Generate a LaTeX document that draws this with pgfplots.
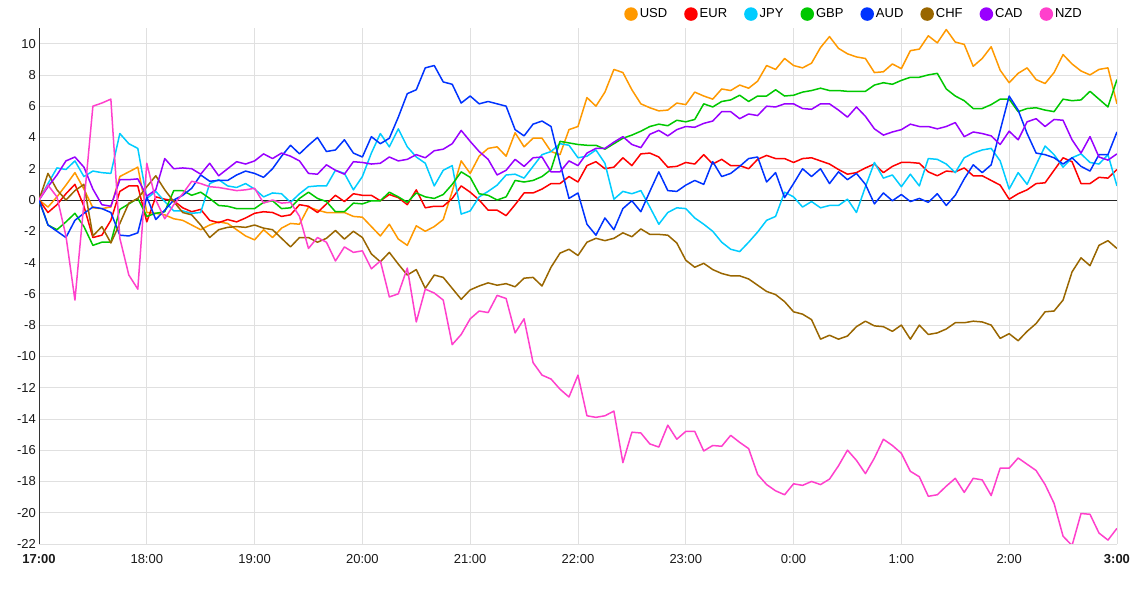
\documentclass[border=0pt]{standalone}
\usepackage{fontspec}
\setmainfont{Liberation Sans}
\usepackage{pgfplots}
\pgfplotsset{compat=1.18}
\definecolor{cUSD}{HTML}{FF9900}
\definecolor{cEUR}{HTML}{FF0000}
\definecolor{cJPY}{HTML}{00CCFF}
\definecolor{cGBP}{HTML}{00C800}
\definecolor{cAUD}{HTML}{0033FF}
\definecolor{cCHF}{HTML}{996600}
\definecolor{cCAD}{HTML}{9900FF}
\definecolor{cNZD}{HTML}{FF40CC}
\pgfplotsset{ser/.style={table/row sep=\\, table/header=false, table/x expr=\coordindex*5, table/y index=0}}
\begin{document}
\begin{tikzpicture}[x=1pt,y=1pt]
\path[use as bounding box] (0,0) rectangle (1135,589);
\begin{axis}[
 at={(39pt,45pt)}, anchor=south west,
 scale only axis, width=1078pt, height=516pt,
 xmin=0, xmax=600, ymin=-22, ymax=11,
 xtick={0,60,...,600},
 xticklabels={\textbf{17:00},18:00,19:00,20:00,21:00,22:00,23:00,0:00,1:00,2:00,\textbf{3:00}},
 ytick={-22,-20,...,10},
 grid=major, grid style={draw=black!12, line width=0.8pt},
 axis x line*=bottom, axis y line*=left,
 x axis line style={draw=none},
 y axis line style={draw=black!80, line width=0.9pt, -},
 tick style={draw=none},
 ticklabel style={font=\fontsize{13}{15}\selectfont, text=black!90},
 xticklabel style={inner sep=0pt, yshift=-10pt},
 yticklabel style={inner sep=0pt, xshift=-3pt},
 /pgf/number format/assume math mode=true,
 extra y ticks={0}, extra y tick labels={},
 extra y tick style={grid style={draw=black!85, line width=0.9pt}},
 legend columns=8,
 legend style={draw=none, fill=none, at={(0.9685,1.027)}, anchor=east,
   font=\fontsize{13}{15}\selectfont, inner sep=0pt, nodes={inner sep=1pt},
   /tikz/every odd column/.append style={column sep=1pt},
   /tikz/every even column/.append style={column sep=16pt}},
 legend image code/.code={\fill[#1] (6pt,0pt) circle (6pt);},
 every axis plot/.append style={line width=1.5pt, line join=round, mark=none},
]
% USD
\addplot[cUSD, ser] table {0\\-0.45\\0.2\\0.95\\1.75\\0.7\\-0.5\\-0.55\\-0.45\\1.5\\1.8\\2.1\\-0.8\\-0.85\\-0.95\\-1.2\\-1.3\\-1.6\\-1.9\\-1.6\\-1.4\\-1.5\\-1.9\\-2.3\\-2.55\\-1.9\\-2.4\\-1.8\\-1.5\\-1.55\\-0.45\\-0.65\\-0.8\\-0.8\\-0.8\\-1.05\\-1.1\\-1.7\\-2.3\\-1.55\\-2.5\\-2.9\\-1.65\\-2.0\\-1.7\\-1.25\\0.55\\2.5\\1.7\\2.8\\3.3\\3.4\\2.8\\4.3\\3.4\\3.95\\3.95\\3.1\\2.9\\4.5\\4.7\\6.55\\6.0\\6.9\\8.35\\8.15\\7.05\\6.15\\5.9\\5.7\\5.75\\6.2\\6.1\\6.9\\6.65\\6.45\\7.1\\7.0\\7.35\\7.15\\7.6\\8.6\\8.35\\9.05\\8.6\\8.45\\8.75\\9.75\\10.45\\9.7\\9.35\\9.15\\9.05\\8.15\\8.2\\8.7\\8.4\\9.55\\9.65\\10.5\\10.05\\10.9\\10.1\\9.95\\8.55\\9.05\\9.8\\8.3\\7.5\\8.1\\8.45\\7.7\\7.45\\8.15\\9.3\\8.7\\8.25\\8.0\\8.35\\8.45\\6.15\\};
\addlegendentry{USD}
% EUR
\addplot[cEUR, ser] table {0\\-0.8\\-0.3\\0.4\\1.0\\-0.4\\-2.4\\-2.25\\-1.3\\0.55\\0.9\\0.9\\-1.4\\0.2\\0.05\\-0.05\\-0.5\\-0.75\\-0.6\\-1.3\\-1.45\\-1.25\\-1.4\\-1.15\\-0.85\\-0.75\\-0.8\\-1.05\\-0.95\\-0.3\\-0.4\\-0.8\\-0.25\\0.3\\-0.1\\0.4\\0.3\\0.3\\-0.05\\0.35\\0.15\\-0.3\\0.65\\-0.5\\-0.4\\-0.4\\0.1\\0.9\\0.5\\0\\-0.65\\-0.65\\-1.0\\-0.3\\0.45\\0.45\\0.7\\1.05\\1.05\\1.5\\1.15\\2.2\\2.45\\2.0\\2.1\\2.7\\2.2\\2.95\\3.0\\2.75\\2.1\\2.15\\2.4\\2.3\\2.9\\2.3\\2.6\\2.2\\2.2\\2.0\\2.6\\2.85\\2.65\\2.65\\2.4\\2.65\\2.7\\2.5\\2.3\\1.95\\1.65\\1.75\\2.05\\2.3\\1.75\\2.15\\2.4\\2.4\\2.35\\1.8\\1.55\\1.85\\1.8\\2.05\\1.55\\1.55\\1.25\\0.95\\0.05\\0.4\\0.65\\1.05\\1.1\\1.9\\2.7\\2.45\\1.05\\1.05\\1.45\\1.4\\1.95\\};
\addlegendentry{EUR}
% JPY
\addplot[cJPY, ser] table {0\\1.05\\2.05\\1.95\\2.5\\1.5\\1.85\\1.75\\1.7\\4.25\\3.6\\3.3\\0.1\\0.55\\-0.1\\-0.7\\-0.7\\-0.85\\-0.8\\1.05\\1.3\\0.9\\0.8\\1.05\\0.7\\0.2\\0.45\\0.4\\-0.15\\0.4\\0.85\\0.9\\0.9\\1.9\\1.7\\0.65\\1.5\\3.0\\4.25\\3.4\\4.55\\3.4\\2.75\\2.35\\0.9\\1.9\\2.2\\-0.9\\-0.7\\0.2\\0.55\\0.95\\1.6\\1.65\\1.4\\2.15\\2.9\\3.1\\3.6\\3.5\\2.7\\2.8\\3.2\\2.35\\0.05\\0.55\\0.4\\0.6\\-0.45\\-1.55\\-0.8\\-0.5\\-0.55\\-1.15\\-1.55\\-2.0\\-2.7\\-3.15\\-3.3\\-2.7\\-2.05\\-1.3\\-1.05\\0.5\\0.2\\-0.45\\-0.1\\-0.5\\-0.35\\-0.35\\0.05\\-0.8\\0.85\\2.4\\1.4\\1.6\\0.85\\1.65\\0.9\\2.65\\2.6\\2.3\\1.75\\2.7\\3.0\\3.2\\3.3\\2.5\\0.7\\1.75\\1.0\\2.25\\3.45\\2.9\\2.1\\2.7\\2.95\\2.4\\2.3\\2.9\\0.9\\};
\addlegendentry{JPY}
% GBP
\addplot[cGBP, ser] table {0\\-1.6\\-1.9\\-1.4\\-0.85\\-1.7\\-2.9\\-2.7\\-2.7\\-0.6\\-0.25\\0.1\\-1.05\\-0.85\\-0.75\\0.6\\0.6\\0.3\\0.5\\0.1\\-0.35\\-0.4\\-0.55\\-0.55\\-0.55\\-0.15\\-0.05\\-0.55\\-0.5\\0.1\\0.5\\0.1\\-0.1\\-0.75\\-0.75\\-0.2\\-0.25\\-0.05\\-0.05\\0.5\\0.2\\-0.15\\0.45\\0.2\\0.1\\0.35\\1.0\\1.8\\1.45\\0.4\\0.3\\0\\0.2\\1.25\\1.15\\1.25\\1.5\\1.95\\3.75\\3.65\\3.55\\3.5\\3.5\\3.25\\3.6\\3.95\\4.15\\4.4\\4.7\\4.85\\4.75\\5.1\\5.0\\5.15\\6.15\\5.95\\6.3\\6.4\\6.7\\6.3\\6.65\\6.65\\7.05\\6.65\\6.7\\6.9\\7.0\\7.15\\7.0\\7.0\\6.95\\6.95\\6.95\\7.35\\7.5\\7.4\\7.65\\7.85\\7.85\\8.0\\8.1\\7.1\\6.65\\6.35\\5.85\\5.85\\6.1\\6.45\\6.45\\5.65\\5.85\\5.9\\5.75\\5.65\\6.45\\6.35\\6.4\\6.95\\6.45\\5.95\\7.7\\};
\addlegendentry{GBP}
% AUD
\addplot[cAUD, ser] table {0\\-1.6\\-2.0\\-2.4\\-1.3\\-0.85\\-0.45\\-0.55\\-0.8\\-2.25\\-2.3\\-2.1\\0.2\\-1.25\\-0.65\\0\\0.3\\0.75\\1.6\\1.2\\1.25\\1.25\\1.6\\1.85\\1.7\\1.45\\2.0\\2.8\\3.5\\2.95\\3.5\\4.0\\3.1\\3.2\\3.85\\3.0\\2.75\\4.05\\3.6\\3.95\\5.3\\6.8\\7.05\\8.45\\8.6\\7.55\\7.4\\6.2\\6.65\\6.15\\6.3\\6.15\\6.0\\4.5\\4.1\\4.85\\5.05\\4.7\\2.35\\0.1\\0.45\\-1.55\\-2.25\\-1.15\\-1.9\\-0.55\\-0.05\\-0.75\\0.55\\1.8\\0.6\\0.55\\0.95\\1.25\\1.0\\2.45\\1.5\\1.7\\2.15\\2.65\\2.75\\1.15\\1.75\\0.15\\1.05\\2.0\\1.5\\2.0\\1.05\\1.8\\1.3\\1.7\\1.0\\-0.25\\0.45\\-0.05\\0.35\\-0.1\\0.1\\-0.15\\0.4\\-0.35\\0.3\\1.35\\2.25\\1.75\\2.25\\4.45\\6.65\\5.75\\4.25\\3.0\\2.9\\2.7\\2.3\\2.7\\2.15\\1.85\\2.9\\2.9\\4.35\\};
\addlegendentry{AUD}
% CHF
\addplot[cCHF, ser] table {0\\1.7\\0.65\\0\\0.6\\1.0\\-2.3\\-1.7\\-2.75\\-1.5\\-0.2\\0.1\\0.85\\1.55\\0.65\\-0.1\\-0.8\\-0.95\\-1.6\\-2.4\\-1.9\\-1.75\\-1.7\\-1.75\\-1.6\\-1.8\\-1.9\\-2.45\\-3.0\\-2.4\\-2.4\\-2.7\\-2.45\\-1.95\\-2.5\\-2.0\\-2.4\\-3.45\\-3.95\\-3.35\\-4.1\\-4.8\\-4.45\\-5.65\\-4.8\\-4.95\\-5.65\\-6.35\\-5.75\\-5.5\\-5.3\\-5.45\\-5.35\\-5.55\\-5.0\\-4.95\\-5.5\\-4.3\\-3.4\\-3.15\\-3.55\\-2.7\\-2.45\\-2.6\\-2.45\\-2.1\\-2.35\\-1.85\\-2.2\\-2.2\\-2.25\\-2.75\\-3.85\\-4.3\\-4.05\\-4.45\\-4.7\\-4.85\\-4.85\\-5.05\\-5.45\\-5.85\\-6.05\\-6.5\\-7.15\\-7.3\\-7.65\\-8.9\\-8.65\\-8.9\\-8.7\\-8.1\\-7.75\\-8.05\\-8.1\\-8.4\\-8.0\\-8.9\\-8.0\\-8.6\\-8.5\\-8.25\\-7.85\\-7.85\\-7.75\\-7.8\\-8.0\\-8.85\\-8.55\\-9.0\\-8.4\\-7.9\\-7.15\\-7.1\\-6.4\\-4.6\\-3.7\\-4.2\\-2.9\\-2.6\\-3.1\\};
\addlegendentry{CHF}
% CAD
\addplot[cCAD, ser] table {0\\0.85\\1.6\\2.5\\2.75\\2.1\\0.7\\-0.3\\-0.4\\1.3\\1.3\\1.35\\0.25\\0.65\\2.65\\2.0\\2.05\\2.0\\1.65\\2.35\\1.55\\2.0\\2.45\\2.3\\2.5\\2.95\\2.65\\3.0\\2.8\\2.5\\1.7\\1.65\\2.25\\1.9\\1.65\\2.45\\2.4\\2.3\\2.35\\2.75\\2.5\\2.6\\2.9\\2.7\\3.15\\3.25\\3.6\\4.45\\3.75\\3.1\\2.6\\1.6\\1.9\\2.6\\2.15\\2.7\\2.75\\1.8\\1.8\\2.5\\2.2\\3.0\\3.3\\3.3\\3.7\\4.05\\3.55\\3.35\\4.2\\4.45\\4.1\\4.5\\4.7\\4.65\\4.9\\5.05\\5.65\\5.65\\5.2\\5.5\\5.4\\6.0\\5.95\\6.15\\6.15\\5.85\\5.8\\6.15\\6.15\\5.75\\5.3\\5.95\\5.35\\4.55\\4.15\\4.35\\4.5\\4.85\\4.7\\4.7\\4.55\\4.7\\4.95\\4.05\\4.35\\4.25\\4.1\\3.55\\4.4\\3.85\\5.0\\5.2\\4.7\\5.15\\5.1\\3.85\\3.0\\4.05\\2.75\\2.55\\2.95\\};
\addlegendentry{CAD}
% NZD
\addplot[cNZD, ser] table {0\\0.95\\0.2\\-2.3\\-6.4\\-0.2\\6.0\\6.2\\6.45\\-2.45\\-4.8\\-5.7\\2.35\\0\\-1.2\\-0.3\\0.4\\1.2\\1.05\\0.85\\0.8\\0.7\\0.6\\0.65\\0.75\\-0.2\\0\\-0.2\\-0.15\\-1.05\\-3.1\\-2.4\\-2.7\\-3.9\\-3.0\\-3.35\\-3.25\\-4.4\\-3.9\\-6.2\\-6.0\\-4.35\\-7.8\\-5.7\\-5.95\\-6.4\\-9.25\\-8.6\\-7.6\\-7.1\\-7.2\\-6.1\\-6.3\\-8.5\\-7.6\\-10.4\\-11.2\\-11.45\\-12.1\\-12.6\\-11.2\\-13.8\\-13.9\\-13.8\\-13.5\\-16.8\\-14.85\\-14.9\\-15.6\\-15.8\\-14.4\\-15.3\\-14.8\\-14.8\\-16.05\\-15.7\\-15.75\\-15.05\\-15.5\\-15.9\\-17.55\\-18.2\\-18.6\\-18.85\\-18.15\\-18.25\\-18.0\\-18.2\\-17.85\\-17.0\\-16.0\\-16.65\\-17.5\\-16.5\\-15.3\\-15.7\\-16.2\\-17.35\\-17.7\\-18.95\\-18.85\\-18.3\\-17.8\\-18.7\\-17.8\\-17.9\\-18.9\\-17.15\\-17.15\\-16.5\\-16.9\\-17.3\\-18.2\\-19.4\\-21.5\\-22.1\\-20.05\\-20.1\\-21.3\\-21.75\\-21.0\\};
\addlegendentry{NZD}
\end{axis}
\end{tikzpicture}
\end{document}
